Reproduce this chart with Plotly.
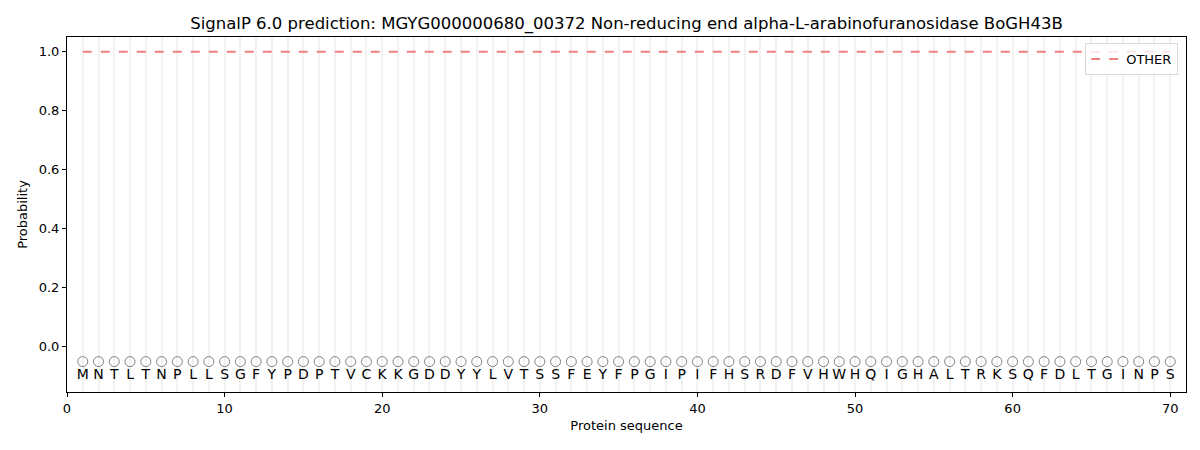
#SignalP 6.0 per-residue prediction plot
import plotly.graph_objects as go

sequence = "MNTLTNPLLSGFYPDPTVCKKGDDYYLVTSSFEYFPGIPIFHSRDFVHWHQIGHALTRKSQFDLTGINPS"
residues = list(sequence)
positions = list(range(1, len(residues) + 1))
prob_other = [1.0] * len(residues)
x_ticks = [0, 10, 20, 30, 40, 50, 60, 70]
y_ticks = [0.0, 0.2, 0.4, 0.6, 0.8, 1.0]

title = "SignalP 6.0 prediction: MGYG000000680_00372 Non-reducing end alpha-L-arabinofuranosidase BoGH43B"

fig = go.Figure()

# probability line
fig.add_trace(go.Scatter(
    x=positions, y=prob_other,
    mode='lines',
    name='OTHER',
    line=dict(color='#f08080', width=2, dash='dash')))

# circle row under the axis
fig.add_trace(go.Scatter(
    x=positions, y=[-0.05] * len(positions),
    mode='markers',
    showlegend=False,
    hoverinfo='skip',
    marker=dict(symbol='circle-open', size=10, color='#808080', line=dict(width=1))))

# amino acid letters
fig.add_trace(go.Scatter(
    x=positions, y=[-0.098] * len(positions),
    mode='text',
    text=residues,
    showlegend=False,
    hoverinfo='skip',
    textfont=dict(family='DejaVu Sans', size=14, color='black')))

"""$$$$$$$$$$$$$$$ FORMATTING $$$$$$$$$$$$$$$$"""
# page body adds 8px, so the figure is a bit smaller than the window
fig.update_layout(
    width=1184, height=434,
    paper_bgcolor='white', plot_bgcolor='white',
    margin=dict(l=59, r=6, t=29, b=50),
    font=dict(family='DejaVu Sans', size=13, color='black'),
    title=dict(text=title, x=0.5, xref='paper', xanchor='center',
               y=0.966, yanchor='middle', font=dict(size=16.5)),
    legend=dict(x=0.993, y=0.983, xanchor='right', yanchor='top',
                bgcolor='rgba(255,255,255,0.8)', bordercolor='#d9d9d9', borderwidth=1,
                font=dict(size=13)),
)
fig.update_xaxes(
    title_text="Protein sequence", title_standoff=6, title_font=dict(size=13),
    range=[0, 71],
    tickmode='array', tickvals=x_ticks,
    ticks='outside', ticklen=4, tickcolor='black',
    showline=True, linecolor='black', linewidth=1, mirror=True,
    showgrid=True, gridcolor='#f2f2f2', gridwidth=2,
    minor=dict(dtick=1, tick0=0, showgrid=True, gridcolor='#f2f2f2', gridwidth=2),
    zeroline=False)
fig.update_yaxes(
    title_text="Probability", title_standoff=8, title_font=dict(size=13),
    range=[-0.153, 1.05],
    tickmode='array', tickvals=y_ticks, tickformat='.1f',
    ticks='outside', ticklen=4, tickcolor='black',
    showline=True, linecolor='black', linewidth=1, mirror=True,
    showgrid=False, zeroline=False)

fig.write_html("out.html")
